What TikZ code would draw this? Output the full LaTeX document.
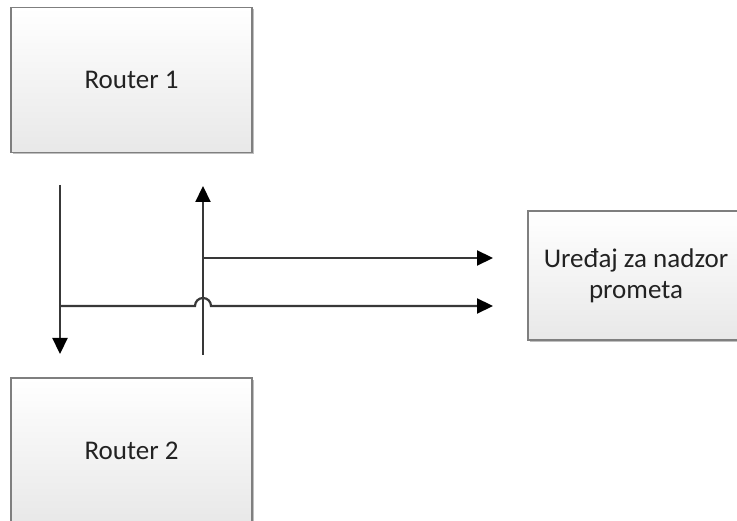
\documentclass[tikz,border=0pt]{standalone}
\usepackage{fontspec}
\setmainfont{Carlito}
\usetikzlibrary{arrows.meta,shadows}
\definecolor{boxedge}{HTML}{7F7F7F}
\definecolor{boxbot}{HTML}{E8E8E8}
\definecolor{linecol}{HTML}{383838}
\definecolor{txt}{HTML}{222222}
\tikzset{
  box/.style={draw=boxedge, line width=1.6pt, top color=white, bottom color=boxbot,
    minimum width=241pt, minimum height=145pt, inner sep=0pt, align=center,
    text=txt, font=\fontsize{27}{31}\selectfont,
    drop shadow={shadow xshift=2pt, shadow yshift=-2pt, opacity=0.25, fill=black}},
  conn/.style={draw=linecol, line width=2.2pt},
  arr/.style={conn, -{Triangle[length=16pt,width=15pt,fill=black,color=black]}},
}
\begin{document}
\begin{tikzpicture}[x=1pt,y=-1pt]
\useasboundingbox (0,0) rectangle (737,521);
\clip (0,0) rectangle (737,521);
\fill[white] (0,0) rectangle (737,521);
\node[box] (r1) at (131.5,80) {Router 1};
\node[box] (r2) at (131.5,450.5) {Router 2};
\node[box, minimum width=216pt, minimum height=129pt] (u) at (636,275.5) {Uređaj za nadzor\\prometa};
\coordinate (a1) at (60,185);
\coordinate (a2) at (60,354);
\coordinate (b1) at (203,355);
\coordinate (b2) at (203,186);
\coordinate (c1) at (203,258);
\coordinate (c2) at (493,258);
\coordinate (d1) at (60,306);
\coordinate (d2) at (493,306);
\coordinate (j1) at (195,306);
\draw[arr] (a1) -- (a2);
\draw[arr] (b1) -- (b2);
\draw[arr] (c1) -- (c2);
\draw[arr] (d1) -- (j1) arc (180:0:8pt) -- (d2);
\end{tikzpicture}
\end{document}
